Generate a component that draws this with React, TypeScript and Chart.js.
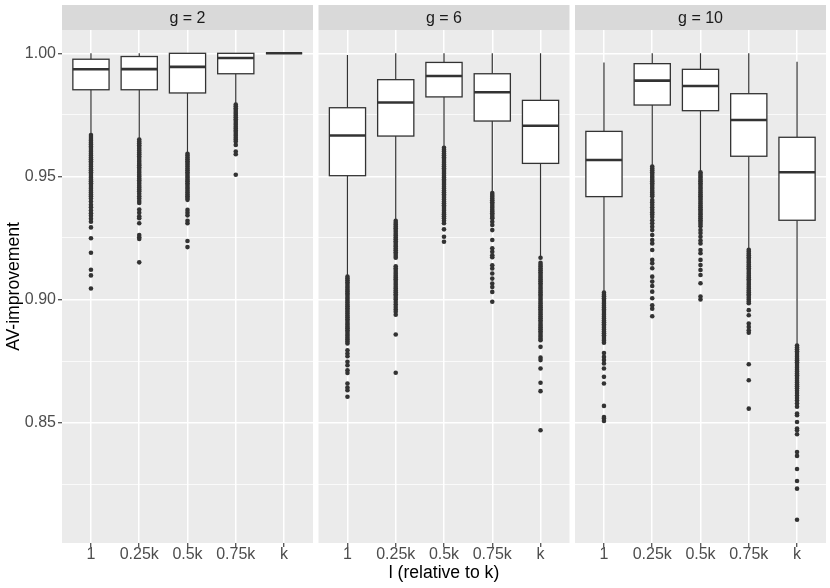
import { useEffect, useRef } from "react";
import { Chart, registerables } from "chart.js";

Chart.register(...registerables);

// ---------- data ----------
const facetLabels = ["g = 2", "g = 6", "g = 10"];
const categories = ["1", "0.25k", "0.5k", "0.75k", "k"];
const yTickValues = [0.825, 0.85, 0.875, 0.9, 0.925, 0.95, 0.975, 1.0];
const xTitle = "l (relative to k)";
const yTitle = "AV-improvement";

// box statistics, one row per facet (g = 2, g = 6, g = 10), one value per category
const whiskerLow = [
  [0.9671, 0.9652, 0.9594, 0.9794, 1.0],
  [0.9099, 0.9323, 0.9618, 0.9435, 0.9175],
  [0.903, 0.9542, 0.9519, 0.9204, 0.8815],
];
const q1 = [
  [0.9852, 0.9852, 0.9839, 0.9917, 1.0],
  [0.9503, 0.9664, 0.9823, 0.9725, 0.9553],
  [0.9418, 0.979, 0.9767, 0.9582, 0.9322],
];
const median = [
  [0.9935, 0.9936, 0.9945, 0.9981, 1.0],
  [0.9666, 0.98, 0.9908, 0.9842, 0.9706],
  [0.9567, 0.9889, 0.9867, 0.9729, 0.9517],
];
const q3 = [
  [0.9976, 0.9987, 1.0, 1.0, 1.0],
  [0.9779, 0.9893, 0.9963, 0.9917, 0.9809],
  [0.9683, 0.9958, 0.9935, 0.9836, 0.9659],
];
const whiskerHigh = [
  [1.0, 1.0, 1.0, 1.0, 1.0],
  [0.9993, 1.0, 1.0, 1.0, 1.0],
  [0.9963, 1.0, 1.0, 1.0, 0.9966],
];

const outliersG2 = [
  [0.9668, 0.966, 0.9652, 0.9645, 0.9637, 0.963, 0.9622, 0.9615, 0.9607, 0.96, 0.9592, 0.9585, 0.9577, 0.957, 0.9562, 0.9555, 0.9547, 0.954, 0.9532, 0.9525, 0.9517, 0.951, 0.9502, 0.9495, 0.9487, 0.948, 0.9472, 0.9465, 0.9457, 0.945, 0.9442, 0.9435, 0.9427, 0.942, 0.941, 0.9398, 0.9385, 0.9375, 0.9362, 0.935, 0.934, 0.9328, 0.9316, 0.9293, 0.9249, 0.919, 0.9121, 0.9098, 0.9045],
  [0.965, 0.9642, 0.9635, 0.9627, 0.962, 0.9612, 0.9605, 0.9597, 0.959, 0.9582, 0.9575, 0.9567, 0.956, 0.9552, 0.9545, 0.9537, 0.953, 0.9522, 0.9515, 0.9507, 0.95, 0.9492, 0.9485, 0.9477, 0.947, 0.9462, 0.9455, 0.9447, 0.944, 0.943, 0.942, 0.941, 0.94, 0.9392, 0.9366, 0.9353, 0.9338, 0.933, 0.931, 0.9262, 0.9253, 0.9246, 0.9151],
  [0.9592, 0.9585, 0.9577, 0.957, 0.9562, 0.9555, 0.9547, 0.954, 0.9532, 0.9525, 0.9517, 0.951, 0.9502, 0.9495, 0.9487, 0.948, 0.9472, 0.9465, 0.9457, 0.945, 0.9442, 0.9435, 0.9427, 0.942, 0.9412, 0.9405, 0.9364, 0.9353, 0.9342, 0.932, 0.931, 0.9238, 0.9213],
  [0.9792, 0.9785, 0.9777, 0.977, 0.9762, 0.9755, 0.9747, 0.974, 0.9732, 0.9725, 0.9717, 0.971, 0.9702, 0.9695, 0.9687, 0.968, 0.9672, 0.9665, 0.9657, 0.965, 0.9642, 0.9628, 0.9601, 0.959, 0.9507],
  [],
];
const outliersG6 = [
  [0.9093, 0.9085, 0.9078, 0.907, 0.9063, 0.9055, 0.9048, 0.904, 0.9033, 0.9025, 0.9018, 0.901, 0.9003, 0.8995, 0.8988, 0.898, 0.8973, 0.8965, 0.8958, 0.895, 0.8943, 0.8935, 0.8928, 0.892, 0.8913, 0.8905, 0.8898, 0.889, 0.8883, 0.8875, 0.8868, 0.886, 0.8853, 0.8845, 0.8838, 0.883, 0.8822, 0.8794, 0.8781, 0.877, 0.8747, 0.8733, 0.8713, 0.8702, 0.8659, 0.8643, 0.8632, 0.8605],
  [0.932, 0.9312, 0.9305, 0.9297, 0.929, 0.9282, 0.9275, 0.9267, 0.926, 0.9252, 0.9245, 0.9237, 0.923, 0.9222, 0.9215, 0.9207, 0.92, 0.9192, 0.9185, 0.9177, 0.917, 0.9135, 0.9127, 0.912, 0.9112, 0.9105, 0.9097, 0.909, 0.9082, 0.9075, 0.9067, 0.906, 0.9052, 0.9045, 0.9037, 0.903, 0.9022, 0.9015, 0.9007, 0.9, 0.899, 0.898, 0.897, 0.896, 0.895, 0.8938, 0.8858, 0.8703],
  [0.9616, 0.9608, 0.9601, 0.9593, 0.9586, 0.9578, 0.9571, 0.9563, 0.9556, 0.9548, 0.9541, 0.9533, 0.9526, 0.9518, 0.9511, 0.9503, 0.9496, 0.9488, 0.9481, 0.9473, 0.9466, 0.9458, 0.9451, 0.9443, 0.9436, 0.9428, 0.9421, 0.9413, 0.9406, 0.9398, 0.9391, 0.9383, 0.9376, 0.9368, 0.9361, 0.9353, 0.9346, 0.9338, 0.933, 0.932, 0.931, 0.9285, 0.9255, 0.9235],
  [0.9433, 0.9425, 0.9418, 0.941, 0.9403, 0.9395, 0.9388, 0.938, 0.9373, 0.9365, 0.9358, 0.935, 0.9343, 0.9335, 0.933, 0.9316, 0.9303, 0.9282, 0.9242, 0.9208, 0.9194, 0.918, 0.9172, 0.9139, 0.9126, 0.9106, 0.9085, 0.9065, 0.9051, 0.9031, 0.8991],
  [0.917, 0.9149, 0.9141, 0.9134, 0.9126, 0.9119, 0.9111, 0.9104, 0.9096, 0.9089, 0.9081, 0.9074, 0.9066, 0.9059, 0.9051, 0.9044, 0.9036, 0.9029, 0.9021, 0.9014, 0.9006, 0.8999, 0.8991, 0.8984, 0.8976, 0.8969, 0.8961, 0.8954, 0.8946, 0.8939, 0.8931, 0.8924, 0.8916, 0.8909, 0.8901, 0.8894, 0.8886, 0.8879, 0.8871, 0.8864, 0.8856, 0.8849, 0.8841, 0.8835, 0.8808, 0.8764, 0.8754, 0.872, 0.8662, 0.8628, 0.8469],
];
const outliersG10 = [
  [0.9028, 0.902, 0.9013, 0.9005, 0.8998, 0.899, 0.8983, 0.8975, 0.8968, 0.896, 0.8953, 0.8945, 0.8938, 0.893, 0.8923, 0.8915, 0.8908, 0.89, 0.8893, 0.8885, 0.8878, 0.887, 0.8863, 0.8855, 0.8848, 0.884, 0.8833, 0.8825, 0.8783, 0.8767, 0.8754, 0.874, 0.872, 0.8686, 0.8659, 0.8568, 0.8523, 0.8517, 0.8507],
  [0.954, 0.9532, 0.9525, 0.9517, 0.951, 0.9502, 0.9495, 0.9487, 0.948, 0.9472, 0.9465, 0.9457, 0.945, 0.9442, 0.9435, 0.9427, 0.942, 0.9404, 0.9395, 0.9385, 0.9375, 0.9365, 0.9355, 0.9345, 0.9335, 0.9322, 0.931, 0.9296, 0.9282, 0.9262, 0.9242, 0.9228, 0.9201, 0.9161, 0.9147, 0.9127, 0.9093, 0.9073, 0.9055, 0.9032, 0.9005, 0.8977, 0.8963, 0.8932],
  [0.9517, 0.951, 0.9502, 0.9495, 0.9487, 0.948, 0.9472, 0.9465, 0.9457, 0.945, 0.9442, 0.9435, 0.9427, 0.942, 0.9412, 0.9405, 0.9397, 0.939, 0.9382, 0.9375, 0.9367, 0.936, 0.9352, 0.9345, 0.9337, 0.933, 0.9322, 0.9315, 0.9307, 0.9298, 0.9282, 0.927, 0.9255, 0.924, 0.9228, 0.9201, 0.9188, 0.9161, 0.914, 0.912, 0.91, 0.9066, 0.9012, 0.9],
  [0.9202, 0.9195, 0.9187, 0.918, 0.9172, 0.9165, 0.9157, 0.915, 0.9142, 0.9135, 0.9127, 0.912, 0.9112, 0.9105, 0.9097, 0.909, 0.9082, 0.9075, 0.9067, 0.906, 0.9052, 0.9045, 0.9037, 0.903, 0.9022, 0.9015, 0.9007, 0.9, 0.8992, 0.8985, 0.8957, 0.8936, 0.8903, 0.8889, 0.8875, 0.8865, 0.8737, 0.8672, 0.8557],
  [0.8813, 0.8805, 0.8798, 0.879, 0.8783, 0.8775, 0.8768, 0.876, 0.8753, 0.8745, 0.8738, 0.873, 0.8723, 0.8715, 0.8708, 0.87, 0.8693, 0.8685, 0.8678, 0.867, 0.8663, 0.8655, 0.8648, 0.864, 0.863, 0.862, 0.861, 0.86, 0.859, 0.8578, 0.8565, 0.8537, 0.853, 0.8503, 0.8476, 0.8469, 0.8453, 0.8381, 0.8365, 0.8312, 0.8263, 0.8232, 0.8106],
];

// ---------- layout / style ----------
const W = 830;
const H = 588;
const FONT = "'Liberation Sans', Arial, Helvetica, sans-serif";
const PANEL_LEFT = 62;
const PANEL_TOP = 30;
const STRIP_TOP = 5;
const PANEL_BOTTOM = 543;
const RIGHT_PAD = 4;
const GAP = 0.114; // panel spacing in category units
const SPAN = 5.2 + GAP;
const BOX_HALF = 0.375;

const catPos = (p: number, i: number) => p * SPAN + i + 1;

export default function App() {
  const canvasRef = useRef<HTMLCanvasElement | null>(null);

  useEffect(() => {
    const canvas = canvasRef.current;
    if (!canvas) return;

    const outlierSets = [outliersG2, outliersG6, outliersG10];
    const points: { x: number; y: number }[] = [];
    outlierSets.forEach((facet, p) =>
      facet.forEach((vals, i) => vals.forEach((v) => points.push({ x: catPos(p, i), y: v })))
    );

    const allVals: number[] = [];
    [whiskerLow, whiskerHigh].forEach((m) => m.forEach((r) => r.forEach((v) => allVals.push(v))));
    points.forEach((pt) => allVals.push(pt.y));
    const dMin = Math.min(...allVals);
    const dMax = Math.max(...allVals);
    const ex = 0.05 * (dMax - dMin);

    const xTickPositions: number[] = [];
    facetLabels.forEach((_, p) => categories.forEach((_, i) => xTickPositions.push(catPos(p, i))));

    const isMajor = (v: number) => Math.abs(v * 20 - Math.round(v * 20)) < 1e-6;

    const facetPlugin = {
      id: "facetPanels",
      beforeDraw(chart: any) {
        const { ctx, chartArea } = chart;
        const x = chart.scales.x;
        ctx.save();
        ctx.fillStyle = "#FFFFFF";
        ctx.fillRect(0, 0, chart.width, chart.height);
        facetLabels.forEach((label, p) => {
          const l = x.getPixelForValue(p * SPAN + 0.4);
          const r = x.getPixelForValue(p * SPAN + 5.6);
          ctx.fillStyle = "#EBEBEB";
          ctx.fillRect(l, chartArea.top, r - l, chartArea.bottom - chartArea.top);
          ctx.fillStyle = "#D9D9D9";
          ctx.fillRect(l, STRIP_TOP, r - l, chartArea.top - STRIP_TOP);
          ctx.fillStyle = "#1A1A1A";
          ctx.font = `16px ${FONT}`;
          ctx.textAlign = "center";
          ctx.textBaseline = "middle";
          ctx.fillText(label, (l + r) / 2, (STRIP_TOP + chartArea.top) / 2 + 1.5);
        });
        ctx.restore();
      },
    };

    const boxPlugin = {
      id: "boxes",
      beforeDatasetsDraw(chart: any) {
        const { ctx } = chart;
        const x = chart.scales.x;
        const y = chart.scales.y;
        ctx.save();
        ctx.strokeStyle = "#333333";
        facetLabels.forEach((_, p) => {
          categories.forEach((_, i) => {
            const c = catPos(p, i);
            const xc = x.getPixelForValue(c);
            const xl = x.getPixelForValue(c - BOX_HALF);
            const xr = x.getPixelForValue(c + BOX_HALF);
            const yLow = y.getPixelForValue(whiskerLow[p][i]);
            const yQ1 = y.getPixelForValue(q1[p][i]);
            const yMed = y.getPixelForValue(median[p][i]);
            const yQ3 = y.getPixelForValue(q3[p][i]);
            const yHigh = y.getPixelForValue(whiskerHigh[p][i]);
            // whiskers
            ctx.lineWidth = 1.2;
            ctx.beginPath();
            ctx.moveTo(xc, yHigh);
            ctx.lineTo(xc, yQ3);
            ctx.moveTo(xc, yQ1);
            ctx.lineTo(xc, yLow);
            ctx.stroke();
            // box
            ctx.fillStyle = "#FFFFFF";
            ctx.fillRect(xl, yQ3, xr - xl, yQ1 - yQ3);
            ctx.lineWidth = 1.3;
            ctx.strokeRect(xl, yQ3, xr - xl, yQ1 - yQ3);
            // median
            ctx.lineWidth = 2.6;
            ctx.beginPath();
            ctx.moveTo(xl, yMed);
            ctx.lineTo(xr, yMed);
            ctx.stroke();
          });
        });
        ctx.restore();
      },
    };

    const chart = new Chart(canvas, {
      type: "scatter",
      data: {
        datasets: [
          {
            data: points,
            pointRadius: 2.3,
            pointBackgroundColor: "#333333",
            pointBorderWidth: 0,
            pointHoverRadius: 2.3,
          },
        ],
      },
      options: {
        responsive: false,
        animation: false,
        devicePixelRatio: 1,
        events: [],
        layout: { padding: { top: PANEL_TOP, right: RIGHT_PAD, left: 0, bottom: 0 } },
        plugins: { legend: { display: false }, tooltip: { enabled: false } },
        scales: {
          x: {
            type: "linear",
            min: 0.4,
            max: 2 * SPAN + 5.6,
            afterFit: (scale: any) => {
              scale.height = H - PANEL_BOTTOM;
            },
            afterBuildTicks: (scale: any) => {
              scale.ticks = xTickPositions.map((v) => ({ value: v }));
            },
            border: { display: false },
            grid: {
              color: "#FFFFFF",
              lineWidth: 1.5,
              tickColor: "#333333",
              tickLength: 4,
              tickWidth: 1.1,
            },
            ticks: {
              autoSkip: false,
              maxRotation: 0,
              minRotation: 0,
              padding: -2.5,
              color: "#4D4D4D",
              font: { family: FONT, size: 16 },
              callback: (_v: any, index: number) => categories[index % categories.length],
            },
            title: {
              display: true,
              text: xTitle,
              color: "#000000",
              font: { family: FONT, size: 17.6 },
              padding: { top: 0, bottom: 4.5 },
            },
          },
          y: {
            type: "linear",
            min: dMin - ex,
            max: dMax + ex,
            afterFit: (scale: any) => {
              scale.width = PANEL_LEFT;
            },
            afterBuildTicks: (scale: any) => {
              scale.ticks = yTickValues.map((v) => ({ value: v }));
            },
            border: { display: false },
            grid: {
              color: "#FFFFFF",
              lineWidth: (ctx: any) => (ctx.tick && isMajor(ctx.tick.value) ? 1.5 : 0.75),
              tickColor: (ctx: any) => (ctx.tick && isMajor(ctx.tick.value) ? "#333333" : "rgba(0,0,0,0)"),
              tickLength: 4,
              tickWidth: 1.1,
            },
            ticks: {
              autoSkip: false,
              padding: 2,
              color: "#4D4D4D",
              font: { family: FONT, size: 16 },
              callback: (v: any) => (isMajor(Number(v)) ? Number(v).toFixed(2) : ""),
            },
            title: {
              display: true,
              text: yTitle,
              color: "#000000",
              font: { family: FONT, size: 17.6 },
              padding: { top: 4, bottom: 0 },
            },
          },
        },
      },
      plugins: [facetPlugin, boxPlugin],
    } as any);

    return () => chart.destroy();
  }, []);

  return (
    <div style={{ position: "absolute", left: 0, top: 0, width: W, height: H }}>
      <canvas ref={canvasRef} width={W} height={H} style={{ display: "block", width: W, height: H }} />
    </div>
  );
}
